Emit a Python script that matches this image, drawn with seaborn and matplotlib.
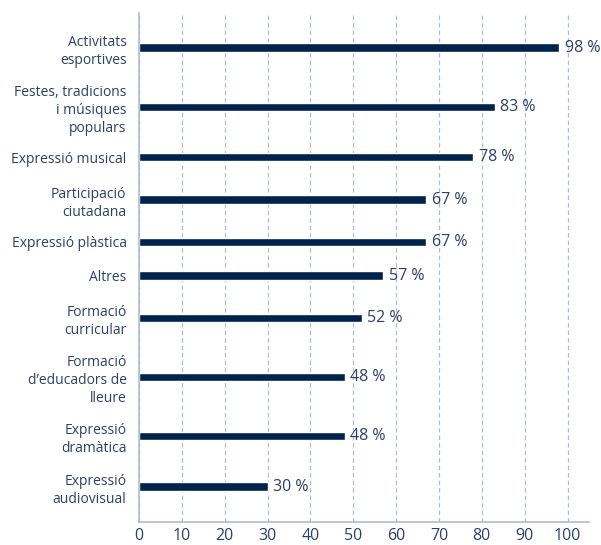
import numpy as np
import pandas as pd
import seaborn as sns
import matplotlib.pyplot as plt

# data
categories = [
    "Activitats\nesportives",
    "Festes, tradicions\ni músiques\npopulars",
    "Expressió musical",
    "Participació\nciutadana",
    "Expressió plàstica",
    "Altres",
    "Formació\ncurricular",
    "Formació\nd’educadors de\nlleure",
    "Expressió\ndramàtica",
    "Expressió\naudiovisual",
]
values = [98, 83, 78, 67, 67, 57, 52, 48, 48, 30]
x_ticks = [0, 10, 20, 30, 40, 50, 60, 70, 80, 90, 100]

BAR = "#00234b"
TEXT = "#2b4166"
GRID = "#aebcd3"

# vertical spacing follows how many lines each label takes
lines = [c.count("\n") + 1 for c in categories]
gaps = [a + b + 2 for a, b in zip(lines[:-1], lines[1:])]
pos = np.concatenate([[0], np.cumsum(gaps)])

df = pd.DataFrame({"cat": categories, "val": values, "pos": pos})

sns.set_style("white")
plt.rcParams["font.family"] = ["Open Sans", "DejaVu Sans"]

fig = plt.figure(figsize=(6.01, 5.45), dpi=100)
ax = fig.add_axes([139 / 601, 1 - 522 / 545, 450 / 601, 509 / 545])

min_gap = min(gaps)
sns.barplot(data=df, x="val", y="pos", orient="h", native_scale=True,
            color=BAR, saturation=1, width=8.2 / (min_gap * 8.42), ax=ax)
ax.bar_label(ax.containers[0], labels=[f"{v} %" for v in values],
             padding=4, color=TEXT, fontsize=11.5)

ax.set_xlim(0, 105)
ax.set_ylim(pos[-1] + lines[-1] + 2.2, -(lines[0] + 2.1))
ax.set_xticks(x_ticks)
ax.set_yticks(pos)
ax.set_yticklabels(categories, ha="right", linespacing=1.3, fontsize=10)
ax.tick_params(axis="both", length=0, labelcolor=TEXT)
ax.tick_params(axis="x", labelsize=11.5, pad=4)
ax.tick_params(axis="y", pad=9)
ax.set_xlabel("")
ax.set_ylabel("")

ax.grid(axis="x", color=GRID, linestyle=(0, (3.5, 2.5)), linewidth=0.9)
ax.set_axisbelow(True)
for s in ["top", "right"]:
    ax.spines[s].set_visible(False)
for s in ["left", "bottom"]:
    ax.spines[s].set_color(GRID)
    ax.spines[s].set_linewidth(1.2)

fig.savefig("out.png", dpi=100)
